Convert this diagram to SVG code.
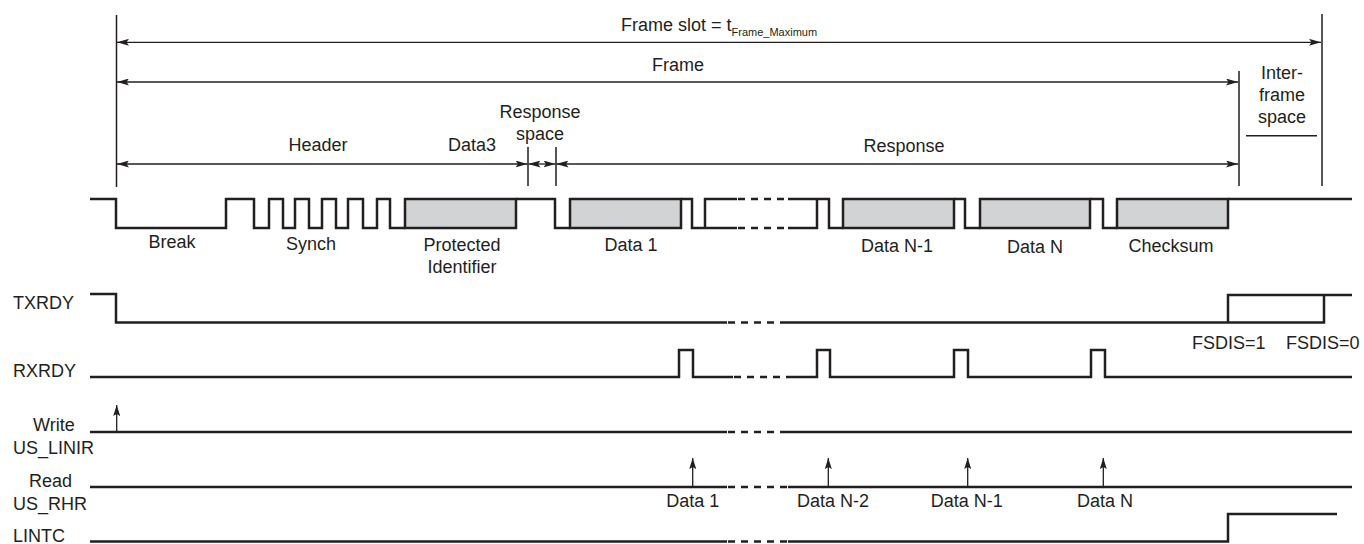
<svg xmlns="http://www.w3.org/2000/svg" width="1364" height="544" viewBox="0 0 1364 544">
<style>
text{font-family:"Liberation Sans",Arial,sans-serif;font-size:18px;fill:#231f20}
.c{text-anchor:middle}
.sub{font-size:11px}
.w{fill:none;stroke:#231f20;stroke-width:2.5;stroke-linejoin:miter}
.wd{fill:none;stroke:#231f20;stroke-width:2.5;stroke-dasharray:7 6}
.box{fill:#d1d3d4;stroke:#231f20;stroke-width:2.5}
.dim{fill:none;stroke:#231f20;stroke-width:1.3;marker-start:url(#ah);marker-end:url(#ah)}
.tk{fill:none;stroke:#231f20;stroke-width:1.5}
.up{fill:none;stroke:#231f20;stroke-width:1.3;marker-end:url(#au)}
</style>
<defs>
<marker id="ah" viewBox="0 0 12 7" refX="12" refY="3.5" markerWidth="12" markerHeight="7" markerUnits="userSpaceOnUse" orient="auto-start-reverse">
<path d="M0,0 L12,3.5 L0,7 L2.5,3.5 z" fill="#231f20"/>
</marker>
<marker id="au" viewBox="0 0 11 7" refX="11" refY="3.5" markerWidth="11" markerHeight="7" markerUnits="userSpaceOnUse" orient="auto">
<path d="M0,0 L11,3.5 L0,7 L2,3.5 z" fill="#231f20"/>
</marker>
</defs>

<g id="dimensions">
<path class="tk" d="M116.5,15 V187 M1322,14 V186 M1239,71 V186 M528,147 V186 M556,147 V186 M1246,135.7 H1317"/>
<path class="dim" d="M117,42.3 H1321"/>
<path class="dim" d="M117,82 H1238"/>
<path class="dim" d="M117,164 H527.5"/>
<path class="dim" d="M528.5,164 H555.5"/>
<path class="dim" d="M556.5,164 H1238"/>
<text x="621" y="30.7">Frame slot = t<tspan class="sub" dy="5">Frame_Maximum</tspan></text>
<text class="c" x="678" y="71">Frame</text>
<text class="c" x="318" y="151">Header</text>
<text class="c" x="472" y="151">Data3</text>
<text class="c" x="540" y="118">Response</text>
<text class="c" x="540" y="140">space</text>
<text class="c" x="904" y="152">Response</text>
<text class="c" x="1282" y="79">Inter-</text>
<text class="c" x="1282" y="100.7">frame</text>
<text class="c" x="1282" y="122.7">space</text>
</g>

<g id="lin-bus">
<path class="w" d="M90,199 H116 V228 H226 V199 H254 V228 H269 V199 H283 V228 H295 V199 H309 V228 H322 V199 H336 V228 H348 V199 H363 V228 H377 V199 H390 V228 H405"/>
<rect class="box" x="405" y="199" width="111" height="29"/>
<path class="w" d="M516,199 H555 V228 H570"/>
<rect class="box" x="570" y="199" width="111" height="29"/>
<path class="w" d="M681,199 H692 V228 H737 M705,228 V199 H737"/>
<path class="wd" d="M738,199 H788 M738,228 H788"/>
<path class="w" d="M788,199 H817 V228 H788 M817,199 H829 V228 H843"/>
<rect class="box" x="843" y="199" width="111" height="29"/>
<path class="w" d="M954,199 H965 V228 H980"/>
<rect class="box" x="980" y="199" width="110" height="29"/>
<path class="w" d="M1090,199 H1103 V228 H1117"/>
<rect class="box" x="1117" y="199" width="111" height="29"/>
<path class="w" d="M1228,199 H1352"/>
<text class="c" x="172" y="248">Break</text>
<text class="c" x="311" y="250">Synch</text>
<text class="c" x="462" y="251">Protected</text>
<text class="c" x="462" y="273">Identifier</text>
<text class="c" x="631" y="251">Data 1</text>
<text class="c" x="897" y="252">Data N-1</text>
<text class="c" x="1035" y="253">Data N</text>
<text class="c" x="1171" y="252">Checksum</text>
</g>

<g id="txrdy">
<text x="13" y="309">TXRDY</text>
<path class="w" d="M90,294 H116 V322.5 H727 M787,322.5 H1324 V295 M1228,322.5 V295 H1352"/>
<path class="wd" d="M728,322.5 H787"/>
<text x="1192" y="349">FSDIS=1</text>
<text x="1286" y="349">FSDIS=0</text>
</g>

<g id="rxrdy">
<text x="13" y="376.7">RXRDY</text>
<path class="w" d="M90,377 H679 V350 H693 V377 H733 M788,377 H817 V350 H830 V377 H954 V350 H968 V377 H1091 V350 H1105 V377 H1352"/>
<path class="wd" d="M734,377 H788"/>
</g>

<g id="write-us-linir">
<text x="33" y="431">Write</text>
<text x="13" y="454">US_LINIR</text>
<path class="w" d="M90,432 H727 M787,432 H1352"/>
<path class="wd" d="M728,432 H787"/>
<path class="up" d="M116.7,432 V405"/>
</g>

<g id="read-us-rhr">
<text x="29" y="486.7">Read</text>
<text x="13" y="510">US_RHR</text>
<path class="w" d="M90,487 H727 M788,487 H1352"/>
<path class="wd" d="M728,487 H788"/>
<path class="up" d="M692.7,487 V458"/>
<path class="up" d="M828.3,487 V458"/>
<path class="up" d="M967.7,487 V458"/>
<path class="up" d="M1103.3,487 V458"/>
<text class="c" x="692.7" y="506.7">Data 1</text>
<text class="c" x="833" y="506.7">Data N-2</text>
<text class="c" x="966.7" y="506.7">Data N-1</text>
<text class="c" x="1105" y="506.7">Data N</text>
</g>

<g id="lintc">
<text x="13" y="541.5">LINTC</text>
<path class="w" d="M90,541.5 H727 M788,541.5 H1228 V514 H1337"/>
<path class="wd" d="M728,541.5 H788"/>
</g>
</svg>
